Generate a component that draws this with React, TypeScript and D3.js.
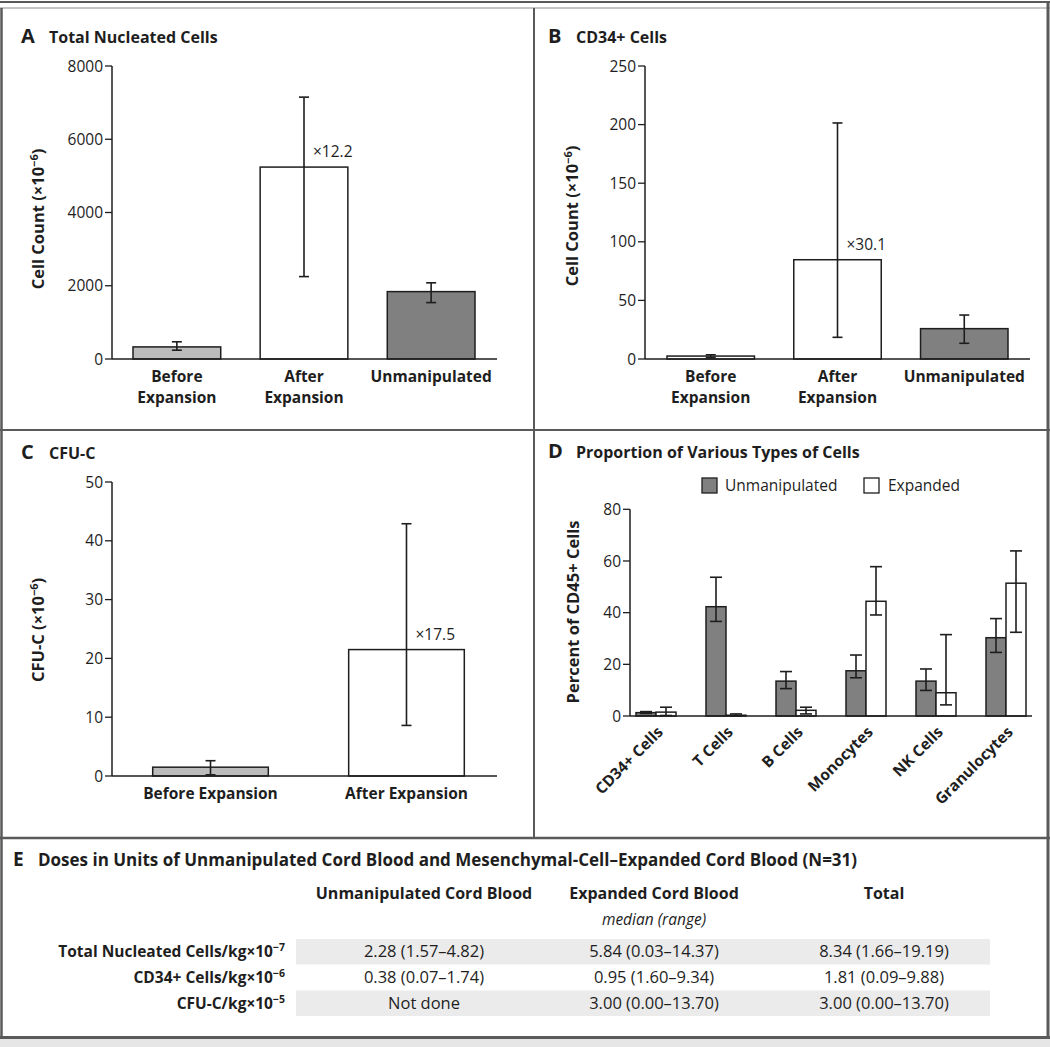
import React from 'react';
import * as d3 from 'd3';

const FONT = "'Open Sans', Lato, sans-serif";
const INK = '#1e1e1e';
const FRAME = '#5a5a5a';

// ---------- Panel A: Total Nucleated Cells ----------
const catsA = [['Before', 'Expansion'], ['After', 'Expansion'], ['Unmanipulated']];
const valuesA = [330, 5240, 1840];
const lowA = [240, 2250, 1540];
const highA = [470, 7150, 2080];
const ticksA = [0, 2000, 4000, 6000, 8000];
const fillsA = ['#bcbcbc', '#ffffff', '#808080'];
const foldA = '×12.2';

// ---------- Panel B: CD34+ Cells ----------
const catsB = [['Before', 'Expansion'], ['After', 'Expansion'], ['Unmanipulated']];
const valuesB = [2.5, 84.7, 25.9];
const lowB = [1.2, 18.5, 13.4];
const highB = [3.6, 201.4, 37.5];
const ticksB = [0, 50, 100, 150, 200, 250];
const fillsB = ['#ffffff', '#ffffff', '#808080'];
const foldB = '×30.1';

// ---------- Panel C: CFU-C ----------
const catsC = [['Before Expansion'], ['After Expansion']];
const valuesC = [1.5, 21.5];
const lowC = [0.2, 8.6];
const highC = [2.6, 42.9];
const ticksC = [0, 10, 20, 30, 40, 50];
const fillsC = ['#bcbcbc', '#ffffff'];
const foldC = '×17.5';

// ---------- Panel D: Proportion of cell types ----------
const catsD = ['CD34+ Cells', 'T Cells', 'B Cells', 'Monocytes', 'NK Cells', 'Granulocytes'];
const seriesD = ['Unmanipulated', 'Expanded'];
const unmanipD = [1.3, 42.3, 13.5, 17.5, 13.5, 30.3];
const unmanipLowD = [1.0, 36.6, 10.6, 14.8, 9.9, 24.6];
const unmanipHighD = [1.7, 53.7, 17.2, 23.6, 18.2, 37.7];
const expandedD = [1.5, 0.3, 2.2, 44.4, 9.0, 51.4];
const expandedLowD = [0.2, 0.1, 0.8, 39.1, 4.3, 32.4];
const expandedHighD = [3.4, 0.8, 3.4, 57.8, 31.5, 63.9];
const ticksD = [0, 20, 40, 60, 80];
const fillsD = ['#808080', '#ffffff'];

// ---------- Panel E: table ----------
const tableTitle = 'Doses in Units of Unmanipulated Cord Blood and Mesenchymal-Cell\u2013Expanded Cord Blood (N=31)';
const tableHeaders = ['Unmanipulated Cord Blood', 'Expanded Cord Blood', 'Total'];
const rowLabels = ['Total Nucleated Cells/kg×10', 'CD34+ Cells/kg×10', 'CFU-C/kg×10'];
const rowExponents = ['\u22127', '\u22126', '\u22125'];
const colUnmanip = ['2.28 (1.57\u20134.82)', '0.38 (0.07\u20131.74)', 'Not done'];
const colExpanded = ['5.84 (0.03\u201314.37)', '0.95 (1.60\u20139.34)', '3.00 (0.00\u201313.70)'];
const colTotal = ['8.34 (1.66\u201319.19)', '1.81 (0.09\u20139.88)', '3.00 (0.00\u201313.70)'];

type BarProps = {
  cats: string[][];
  values: number[];
  lows: number[];
  highs: number[];
  fills: string[];
  ticks: number[];
  axisX: number;
  axisEnd: number;
  y0: number;
  yTop: number;
  bandStart: number;
  bandEnd: number;
  padInner: number;
  fold: string;
  foldIndex: number;
};

function BarPanel(p: BarProps) {
  const y = d3.scaleLinear().domain([0, p.ticks[p.ticks.length - 1]]).range([p.y0, p.yTop]);
  const x = d3
    .scaleBand<number>()
    .domain(p.values.map((_, i) => i))
    .range([p.bandStart, p.bandEnd])
    .paddingInner(p.padInner)
    .paddingOuter(0);
  const bw = x.bandwidth();
  const cap = 5;
  return (
    <g>
      {p.values.map((v, i) => (
        <rect key={'b' + i} x={x(i)} y={y(v)} width={bw} height={p.y0 - y(v)} fill={p.fills[i]} stroke={INK} strokeWidth={1.5} />
      ))}
      {p.values.map((v, i) => {
        const cx = (x(i) as number) + bw / 2;
        return (
          <g key={'e' + i} stroke={INK} strokeWidth={1.6}>
            <line x1={cx} x2={cx} y1={y(p.lows[i])} y2={y(p.highs[i])} />
            <line x1={cx - cap} x2={cx + cap} y1={y(p.lows[i])} y2={y(p.lows[i])} />
            <line x1={cx - cap} x2={cx + cap} y1={y(p.highs[i])} y2={y(p.highs[i])} />
          </g>
        );
      })}
      <line x1={p.axisX} x2={p.axisX} y1={p.y0} y2={y(p.ticks[p.ticks.length - 1])} stroke={INK} strokeWidth={1.5} />
      <line x1={p.axisX} x2={p.axisEnd} y1={p.y0} y2={p.y0} stroke={INK} strokeWidth={1.5} />
      {p.ticks.map((t) => (
        <g key={'t' + t}>
          <line x1={p.axisX - 7} x2={p.axisX} y1={y(t)} y2={y(t)} stroke={INK} strokeWidth={1.3} />
          <text x={p.axisX - 9} y={y(t)} dy="0.36em" textAnchor="end" fontSize={15.5} fill={INK}>
            {t}
          </text>
        </g>
      ))}
      {p.cats.map((lines, i) => {
        const cx = (x(i) as number) + bw / 2;
        return (
          <text key={'c' + i} x={cx} y={p.y0 + 23} textAnchor="middle" fontSize={15.5} fontWeight="bold" fill={INK}>
            {lines.map((l, j) => (
              <tspan key={j} x={cx} dy={j === 0 ? 0 : 21}>
                {l}
              </tspan>
            ))}
          </text>
        );
      })}
      <text
        x={(x(p.foldIndex) as number) + bw / 2 + 9}
        y={y(p.values[p.foldIndex]) - 10}
        fontSize={15.5}
        fill={INK}
      >
        {p.fold}
      </text>
    </g>
  );
}

function YLabel({ x, y, main, sup, tail }: { x: number; y: number; main: string; sup: string; tail: string }) {
  return (
    <text transform={`translate(${x},${y}) rotate(-90)`} textAnchor="middle" dy="0.36em" fontSize={16.5} fontWeight="bold" fill={INK}>
      <tspan>{main}</tspan>
      <tspan dy={-6} fontSize={11}>
        {sup}
      </tspan>
      <tspan dy={6}>{tail}</tspan>
    </text>
  );
}

function PanelTitle({ x, y, letter, title }: { x: number; y: number; letter: string; title: string }) {
  return (
    <g fill={INK} fontWeight="bold">
      <text x={x} y={y} fontSize={20}>
        {letter}
      </text>
      <text x={x + 28} y={y} fontSize={16}>
        {title}
      </text>
    </g>
  );
}

function PanelD() {
  const axisX = 630;
  const y0 = 716;
  const yTop = 509.3;
  const y = d3.scaleLinear().domain([0, 80]).range([y0, yTop]);
  const x0 = d3.scaleBand<string>().domain(catsD).range([636, 1026]).paddingInner(30 / 70).paddingOuter(0);
  const x1 = d3.scaleBand<string>().domain(seriesD).range([0, x0.bandwidth()]);
  const series = [
    { name: seriesD[0], vals: unmanipD, lo: unmanipLowD, hi: unmanipHighD, fill: fillsD[0] },
    { name: seriesD[1], vals: expandedD, lo: expandedLowD, hi: expandedHighD, fill: fillsD[1] },
  ];
  const cap = 6;
  return (
    <g>
      {catsD.map((c, i) => (
        <g key={c}>
          {series.map((s) => {
            const bx = (x0(c) as number) + (x1(s.name) as number);
            const bw = x1.bandwidth();
            const cx = bx + bw / 2;
            return (
              <g key={s.name}>
                <rect x={bx} y={y(s.vals[i])} width={bw} height={y0 - y(s.vals[i])} fill={s.fill} stroke={INK} strokeWidth={1.5} />
                <g stroke={INK} strokeWidth={1.6}>
                  <line x1={cx} x2={cx} y1={y(s.lo[i])} y2={y(s.hi[i])} />
                  <line x1={cx - cap} x2={cx + cap} y1={y(s.lo[i])} y2={y(s.lo[i])} />
                  <line x1={cx - cap} x2={cx + cap} y1={y(s.hi[i])} y2={y(s.hi[i])} />
                </g>
              </g>
            );
          })}
        </g>
      ))}
      <line x1={axisX} x2={axisX} y1={y0} y2={yTop} stroke={INK} strokeWidth={1.5} />
      <line x1={axisX} x2={1032} y1={y0} y2={y0} stroke={INK} strokeWidth={1.5} />
      {ticksD.map((t) => (
        <g key={t}>
          <line x1={axisX - 7} x2={axisX} y1={y(t)} y2={y(t)} stroke={INK} strokeWidth={1.3} />
          <text x={axisX - 9} y={y(t)} dy="0.36em" textAnchor="end" fontSize={15.5} fill={INK}>
            {t}
          </text>
        </g>
      ))}
      {catsD.map((c) => {
        const cx = (x0(c) as number) + x0.bandwidth() / 2;
        return (
          <text
            key={c}
            transform={`translate(${cx + 8},${y0 + 17}) rotate(-45)`}
            textAnchor="end"
            fontSize={15.5}
            fontWeight="bold"
            fill={INK}
          >
            {c}
          </text>
        );
      })}
      <rect x={702} y={478} width={15} height={15} fill={fillsD[0]} stroke={INK} strokeWidth={1.3} />
      <text x={725} y={491} fontSize={15.5} fill={INK}>
        {seriesD[0]}
      </text>
      <rect x={864} y={478} width={15} height={15} fill={fillsD[1]} stroke={INK} strokeWidth={1.3} />
      <text x={888} y={491} fontSize={15.5} fill={INK}>
        {seriesD[1]}
      </text>
    </g>
  );
}

function PanelE() {
  const colX = [424, 654, 884];
  const rowTop = [939, 964.5, 990.5];
  const rowH = 25.5;
  const cols = [colUnmanip, colExpanded, colTotal];
  return (
    <g fill={INK}>
      <text x={13} y={866} fontSize={19} fontWeight="bold">
        E
      </text>
      <text x={38} y={866} fontSize={17} fontWeight="bold">
        {tableTitle}
      </text>
      {tableHeaders.map((h, i) => (
        <text key={h} x={colX[i]} y={899} textAnchor="middle" fontSize={16} fontWeight="bold">
          {h}
        </text>
      ))}
      <text x={colX[1]} y={925} textAnchor="middle" fontSize={15.5} fontStyle="italic">
        median (range)
      </text>
      {rowTop.map((t, r) =>
        r % 2 === 0 ? <rect key={'bg' + r} x={296} y={t} width={694} height={rowH} fill="#ebebeb" /> : null
      )}
      {rowLabels.map((l, r) => (
        <text key={l} x={285} y={rowTop[r] + 18} textAnchor="end" fontSize={15.5} fontWeight="bold">
          <tspan>{l}</tspan>
          <tspan dy={-6} fontSize={10.5}>
            {rowExponents[r]}
          </tspan>
        </text>
      ))}
      {cols.map((col, ci) =>
        col.map((v, r) => (
          <text key={ci + '-' + r} x={colX[ci]} y={rowTop[r] + 18} textAnchor="middle" fontSize={16.5}>
            {v}
          </text>
        ))
      )}
    </g>
  );
}

export default function App() {
  return (
    <svg
      width={1050}
      height={1047}
      viewBox="0 0 1050 1047"
      style={{ position: 'absolute', left: 0, top: 0, background: '#fff' }}
      fontFamily={FONT}
    >
      <rect x={0} y={0} width={1050} height={1047} fill="#fff" />
      <line x1={0} x2={1050} y1={2} y2={2} stroke={FRAME} strokeWidth={2} />
      <line x1={0} x2={1050} y1={8} y2={8} stroke="#8a8a8a" strokeWidth={1} />
      <line x1={1.5} x2={1.5} y1={8} y2={1040} stroke={FRAME} strokeWidth={2.5} />
      <line x1={1048} x2={1048} y1={2} y2={1040} stroke={FRAME} strokeWidth={3} />
      <line x1={534} x2={534} y1={8} y2={838} stroke={FRAME} strokeWidth={2} />
      <line x1={0} x2={1050} y1={430} y2={430} stroke={FRAME} strokeWidth={2} />
      <line x1={0} x2={1050} y1={838} y2={838} stroke={FRAME} strokeWidth={2.5} />
      <rect x={0} y={1039} width={1050} height={8} fill="#e6e6e6" />
      <line x1={0} x2={1050} y1={1037.5} y2={1037.5} stroke={FRAME} strokeWidth={3} />

      <PanelTitle x={21} y={43} letter="A" title="Total Nucleated Cells" />
      <YLabel x={38} y={219} main="Cell Count (×10" sup={'\u22126'} tail=")" />
      <BarPanel
        cats={catsA}
        values={valuesA}
        lows={lowA}
        highs={highA}
        fills={fillsA}
        ticks={ticksA}
        axisX={112}
        axisEnd={497}
        y0={359}
        yTop={66}
        bandStart={133}
        bandEnd={475}
        padInner={0.31}
        fold={foldA}
        foldIndex={1}
      />

      <PanelTitle x={548} y={43} letter="B" title="CD34+ Cells" />
      <YLabel x={572} y={216} main="Cell Count (×10" sup={'\u22126'} tail=")" />
      <BarPanel
        cats={catsB}
        values={valuesB}
        lows={lowB}
        highs={highB}
        fills={fillsB}
        ticks={ticksB}
        axisX={645}
        axisEnd={1030}
        y0={359}
        yTop={66}
        bandStart={667}
        bandEnd={1008}
        padInner={0.31}
        fold={foldB}
        foldIndex={1}
      />

      <PanelTitle x={21} y={459} letter="C" title="CFU-C" />
      <YLabel x={38} y={630} main="CFU-C (×10" sup={'\u22126'} tail=")" />
      <BarPanel
        cats={catsC}
        values={valuesC}
        lows={lowC}
        highs={highC}
        fills={fillsC}
        ticks={ticksC}
        axisX={112}
        axisEnd={497}
        y0={776}
        yTop={482}
        bandStart={152.7}
        bandEnd={464.3}
        padInner={0.41}
        fold={foldC}
        foldIndex={1}
      />

      <PanelTitle x={548} y={458} letter="D" title="Proportion of Various Types of Cells" />
      <text transform="translate(573,612) rotate(-90)" textAnchor="middle" dy="0.36em" fontSize={16.5} fontWeight="bold" fill={INK}>
        Percent of CD45+ Cells
      </text>
      <PanelD />

      <PanelE />
    </svg>
  );
}
